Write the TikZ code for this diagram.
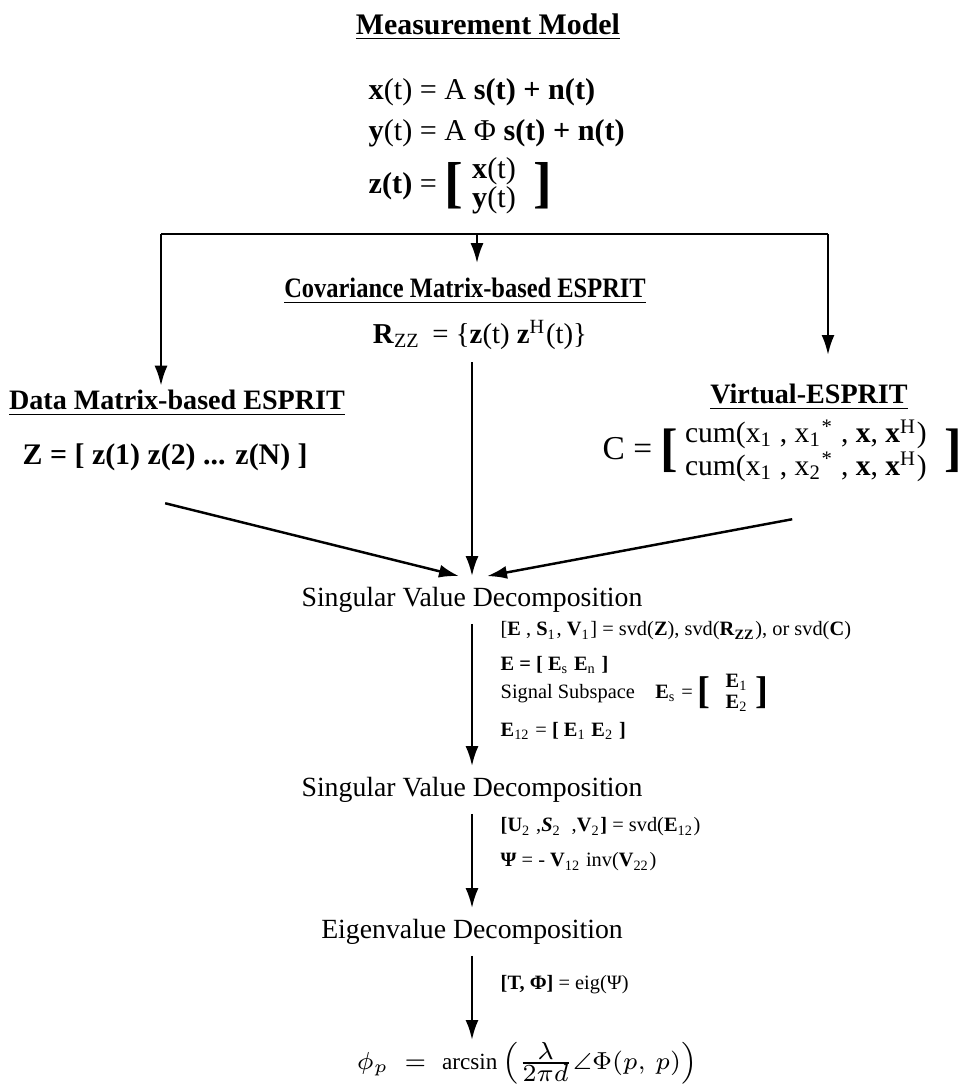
\documentclass[tikz,border=0pt]{standalone}
\usepackage{amsmath,amssymb}
\usepackage{fontspec}
\setmainfont{Liberation Serif}
\usepackage{graphicx}
\usetikzlibrary{arrows.meta,positioning}

% bold square bracket of a given size, centred on the math axis
\newcommand{\tallbrk}[2]{\vcenter{\hbox{\fontsize{#1}{#1}\selectfont\textbf{#2}}}}

\tikzset{
  head/.style={font=\fontsize{8}{9.6}\selectfont\bfseries, inner sep=1pt},
  eqn/.style={font=\fontsize{8.6}{10}\selectfont, anchor=west, inner sep=0pt},
  stage/.style={font=\fontsize{7.9}{9}\selectfont, inner sep=3pt},
  note/.style={font=\fontsize{5.8}{7}\selectfont, anchor=west, inner sep=0pt},
  wire/.style={line width=0.7pt},
  arr/.style={wire, -{Latex[length=2mm,width=1.3mm]}},
}

\begin{document}
\begin{tikzpicture}
\useasboundingbox (0,0) rectangle (9.68,-10.86);

% measurement model
\node[head, font=\fontsize{8.5}{10}\selectfont\bfseries] (model) at (4.88,-0.27) {\underline{Measurement Model}};
\node[eqn] (xeq) at (3.68,-0.92) {\textbf{x}(t) = A \textbf{s(t) + n(t)}};
\node[eqn] (yeq) at (3.68,-1.33) {\textbf{y}(t) = A Φ \textbf{s(t) + n(t)}};
\node[eqn] (zeq) at (3.68,-1.86) {\textbf{z(t)} = $\tallbrk{16}{[}\;\begin{tabular}{@{}c@{}}\textbf{x}(t)\\[-1.5pt] \textbf{y}(t)\end{tabular}\;\;\tallbrk{16}{]}$};

% three branches
\coordinate (bl) at (1.61,-2.34);
\coordinate (bm) at (4.77,-2.34);
\coordinate (br) at (8.28,-2.34);
\coordinate (rtip) at (8.28,-3.55);
\draw[wire] (bl) -- (br);

\node[head, inner sep=4pt] (cov) at (4.65,-2.91) {\scalebox{0.87}[1]{\underline{Covariance Matrix-based ESPRIT}}};
\node[eqn, anchor=center, font=\fontsize{8.2}{10}\selectfont] (rzz) at (4.80,-3.35) {\textbf{R}\textsubscript{ZZ} \,= \{\textbf{z}(t) \textbf{z}\textsuperscript{H}(t)\}};

\node[head] (data) at (1.77,-4.03) {\underline{Data Matrix-based ESPRIT}};
\node[eqn, font=\fontsize{8.5}{10}\selectfont\bfseries] (zmat) at (0.22,-4.57) {Z = [ z(1) z(2) ... z(N) ]};

\node[head] (virt) at (8.09,-3.97) {\underline{Virtual-ESPRIT}};
\node[eqn, font=\fontsize{9.5}{10}\selectfont] (cmat) at (6.02,-4.52) {C = $\tallbrk{15}{[}\hspace{2pt}\mbox{\fontsize{8.4}{8.6}\selectfont\begin{tabular}{@{}l@{}}cum(x\textsubscript{1} , x\textsubscript{1}\textsuperscript{*} , \textbf{x}, \textbf{x}\textsuperscript{H})\\ cum(x\textsubscript{1} , x\textsubscript{2}\textsuperscript{*} , \textbf{x}, \textbf{x}\textsuperscript{H})\end{tabular}}\hspace{5pt}\tallbrk{15}{]}$};

\draw[arr] (bm) -- (bm |- cov.north);
\draw[arr] (bl) -- (bl |- data.north);
\draw[arr] (br) -- (rtip);

% decomposition chain
\node[stage] (svd1) at (4.72,-6.00) {Singular Value Decomposition};
\node[stage] (svd2) at (4.72,-7.90) {Singular Value Decomposition};
\node[stage] (evd) at (4.72,-9.32) {Eigenvalue Decomposition};
\node[font=\fontsize{6.6}{8}\selectfont, inner sep=1pt] (doa) at (5.27,-10.63)
  {$\phi_p\;=\;\mbox{arcsin}\left(\frac{\textstyle\lambda}{\textstyle 2\pi d}\angle\Phi(p,\,p)\right)$};
\coordinate (tip) at (4.72,-10.40);

\draw[arr] ([yshift=-3.2mm]zmat.south) -- ([xshift=-1.3mm]svd1.north);
\draw[arr] ([yshift=-1.2mm]rzz.south -| svd1.north) -- (svd1.north);
\draw[arr] ([xshift=1mm,yshift=-3.4mm]cmat.south) -- ([xshift=1.5mm]svd1.north);
\draw[arr] (svd1) -- (svd2);
\draw[arr] (svd2) -- (evd);
\draw[arr] (evd) -- (tip);

% steps beside the arrows
\node[note] (n1) at (5.00,-6.31) {[\textbf{E} , \textbf{S}\textsubscript{1}, \textbf{V}\textsubscript{1}] = svd(\textbf{Z}), svd(\textbf{R}\textsubscript{\textbf{ZZ}}), or svd(\textbf{C})};
\node[note] (n2) at (5.00,-6.65) {\textbf{E = [ E}\textsubscript{s} \textbf{E}\textsubscript{n} \textbf{]}};
\node[note] (n3) at (5.00,-6.93) {Signal Subspace\quad\textbf{E}\textsubscript{s} = $\tallbrk{11}{[}\;\;\begin{tabular}{@{}c@{}}\textbf{E}\textsubscript{1}\\[-1pt] \textbf{E}\textsubscript{2}\end{tabular}\;\tallbrk{11}{]}$};
\node[note] (n4) at (5.00,-7.31) {\textbf{E}\textsubscript{12} = \textbf{[ E}\textsubscript{1} \textbf{E}\textsubscript{2} \textbf{]}};
\node[note] (n5) at (5.00,-8.27) {\textbf{[U}\textsubscript{2} ,\textbf{\textit{S}}\textsubscript{2} \ ,\textbf{V}\textsubscript{2}\textbf{]} = svd(\textbf{E}\textsubscript{12})};
\node[note] (n6) at (5.00,-8.62) {\textbf{Ψ} = - \textbf{V}\textsubscript{12} inv(\textbf{V}\textsubscript{22})};
\node[note] (n7) at (5.00,-9.85) {\textbf{[T, Φ]} = eig(Ψ)};
\end{tikzpicture}
\end{document}
